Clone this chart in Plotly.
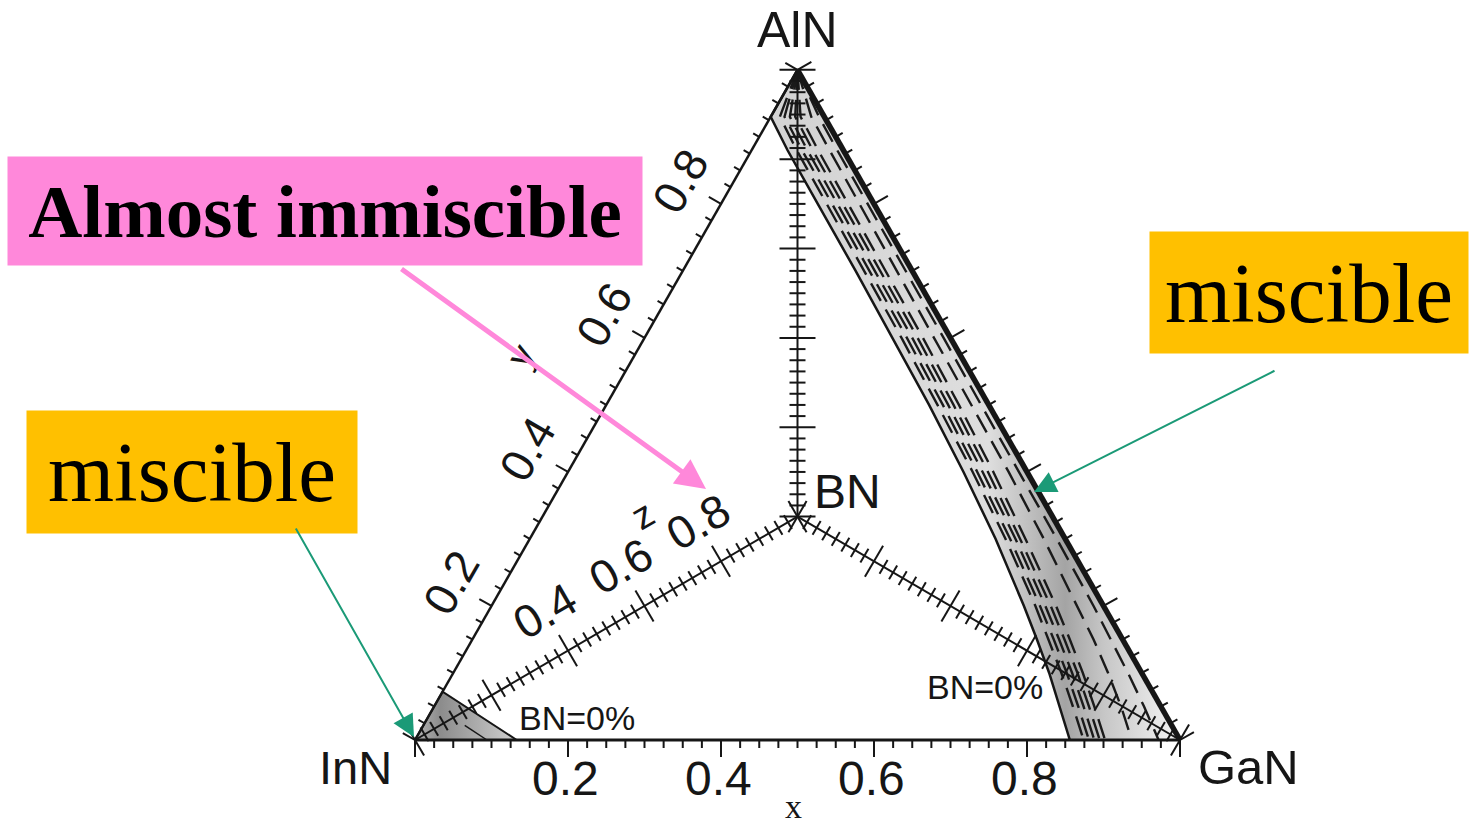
import numpy as np
import plotly.graph_objects as go

# ---------------------------------------------------------------------------
# Quaternary B_z(Al_y Ga_x In_{1-x-y})_{1-z}N composition diagram
# x = GaN fraction (bottom edge), y = AlN fraction (left / right edges),
# z = BN fraction (axes running from each corner to the BN centre point)
# ---------------------------------------------------------------------------

TICK_STEP = 0.025
MAJOR_STEP = 0.2

X_TICK_VALUES = [0.2, 0.4, 0.6, 0.8]
X_TICK_LABELS = ["0.2", "0.4", "0.6", "0.8"]
Y_TICK_VALUES = [0.2, 0.4, 0.6, 0.8]
Y_TICK_LABELS = ["0.2", "0.4", "0.6", "0.8"]
Z_TICK_VALUES = [0.4, 0.6, 0.8]
Z_TICK_LABELS = ["0.4", "0.6", "0.8"]

# Miscible band along the GaN-AlN side (BN = 0 %): InN content of each curve
BAND_Y = [0.0, 0.05, 0.1, 0.15, 0.2, 0.3, 0.4, 0.5, 0.6, 0.7, 0.8, 0.88, 0.93, 1.0]
BAND_EDGE_INN = [0.144, 0.132, 0.121, 0.112, 0.104, 0.091, 0.083, 0.078, 0.0755,
                 0.074, 0.0735, 0.073, 0.070, 0.0]
BAND_DASHED_INN = [
    [0.126, 0.115, 0.105, 0.097, 0.089, 0.078, 0.071, 0.067, 0.064, 0.063, 0.062, 0.061, 0.058, 0.0],
    [0.119, 0.108, 0.098, 0.090, 0.083, 0.072, 0.065, 0.060, 0.057, 0.056, 0.055, 0.054, 0.052, 0.0],
    [0.112, 0.101, 0.091, 0.083, 0.076, 0.065, 0.058, 0.053, 0.050, 0.049, 0.048, 0.047, 0.045, 0.0],
    [0.105, 0.094, 0.084, 0.076, 0.069, 0.059, 0.051, 0.046, 0.043, 0.042, 0.041, 0.040, 0.038, 0.0],
    [0.098, 0.087, 0.077, 0.069, 0.062, 0.052, 0.044, 0.039, 0.036, 0.035, 0.034, 0.033, 0.031, 0.0],
    [0.063, 0.052, 0.044, 0.038, 0.034, 0.028, 0.024, 0.022, 0.021, 0.020, 0.019, 0.018, 0.017, 0.0],
    [0.028, 0.022, 0.018, 0.015, 0.013, 0.011, 0.010, 0.010, 0.009, 0.009, 0.008, 0.008, 0.007, 0.0],
]

# Miscible pocket at the InN corner (BN = 0 %): (x, y) corners
INN_POCKET_X = [0.0, 0.0, 0.133]
INN_POCKET_Y = [0.0, 0.072, 0.0]
INN_INNER_X = [0.054, 0.094]
INN_INNER_Y = [0.022, 0.0]

# ---------------------------------------------------------------------------
# geometry of the drawing plane
# ---------------------------------------------------------------------------
W, H = 1470, 830
PX = 1.0 / 765.0                      # one screen pixel in plane units
V_INN = np.array([0.0, 0.0])
V_GAN = np.array([1.0, 0.0])
V_ALN = np.array([0.5, 0.876])
V_BN = (V_INN + V_GAN + V_ALN) / 3.0

X_RANGE = [-415 * PX, (W - 415) * PX]
Y_RANGE = [-(H - 740) * PX, 740 * PX]


def comp_xy(x, y, z=0.0):
    x = np.asarray(x, float)
    y = np.asarray(y, float)
    inn = 1.0 - x - y
    px = (1 - z) * (inn * V_INN[0] + x * V_GAN[0] + y * V_ALN[0]) + z * V_BN[0]
    py = (1 - z) * (inn * V_INN[1] + x * V_GAN[1] + y * V_ALN[1]) + z * V_BN[1]
    return px, py


def unit(v):
    return v / np.hypot(*v)


def tick_segments(p0, p1, normal, minor_len, major_len, both=False):
    xs, ys = [], []
    d = p1 - p0
    for t in np.round(np.arange(0.0, 1.0 + 1e-9, TICK_STEP), 4):
        p = p0 + t * d
        is_major = abs(t / MAJOR_STEP - round(t / MAJOR_STEP)) < 1e-6
        L = (major_len if is_major else minor_len) * PX
        a = p - normal * L if both else p
        b = p + normal * L
        xs += [a[0], b[0], None]
        ys += [a[1], b[1], None]
    return xs, ys


fig = go.Figure()
INK = "#161616"

# --- shaded miscible regions ------------------------------------------------
bx, by = comp_xy(1.0 - np.array(BAND_Y) - np.array(BAND_EDGE_INN), BAND_Y)
band_x = list(bx) + [V_GAN[0], bx[0]]
band_y = list(by) + [V_GAN[1], by[0]]
fig.add_trace(go.Scatter(
    x=band_x, y=band_y, mode="lines", fill="toself", line=dict(width=0),
    fillgradient=dict(type="horizontal", start=0.5, stop=1.0,
                      colorscale=[[0, "#d4d4d4"], [0.5, "#dedede"], [0.7, "#a4a4a4"],
                                  [0.8, "#c6c6c6"], [1, "#f5f5f5"]]),
    hoverinfo="skip"))

px_, py_ = comp_xy(INN_POCKET_X, INN_POCKET_Y)
fig.add_trace(go.Scatter(
    x=list(px_) + [px_[0]], y=list(py_) + [py_[0]], mode="lines", fill="toself",
    line=dict(color=INK, width=2),
    fillgradient=dict(type="horizontal", start=0.0, stop=0.133,
                      colorscale=[[0, "#b5b5b5"], [0.25, "#8c8c8c"], [1, "#cfcfcf"]]),
    hoverinfo="skip"))
ix, iy = comp_xy(INN_INNER_X, INN_INNER_Y)
fig.add_trace(go.Scatter(x=ix, y=iy, mode="lines", line=dict(color=INK, width=1.5),
                         hoverinfo="skip"))

# --- curves inside the band ------------------------------------------------
for inn in BAND_DASHED_INN:
    cx, cy = comp_xy(1.0 - np.array(BAND_Y) - np.array(inn), BAND_Y)
    fig.add_trace(go.Scatter(x=cx[::-1], y=cy[::-1], mode="lines",
                             line=dict(color="#1a1a1a", width=2.4, dash="20px,10px"),
                             hoverinfo="skip"))
fig.add_trace(go.Scatter(x=bx, y=by, mode="lines", line=dict(color=INK, width=2.5),
                         hoverinfo="skip"))

# --- triangle edges ------------------------------------------------------------
def seg(p, q, width):
    fig.add_trace(go.Scatter(x=[p[0], q[0]], y=[p[1], q[1]], mode="lines",
                             line=dict(color=INK, width=width), hoverinfo="skip"))

seg(V_INN, V_GAN, 3)
seg(V_INN, V_ALN, 2.5)
seg(V_GAN, V_ALN, 5.5)
for v in (V_INN, V_GAN, V_ALN):
    seg(v, V_BN, 2)

# --- ticks -------------------------------------------------------------------
n_left = unit(np.array([-(V_ALN - V_INN)[1], (V_ALN - V_INN)[0]]))
n_right = unit(np.array([(V_ALN - V_GAN)[1], -(V_ALN - V_GAN)[0]]))
tick_sets = [
    tick_segments(V_INN, V_GAN, np.array([0.0, -1.0]), 8, 17),
    tick_segments(V_INN, V_ALN, n_left, 7, 14),
    tick_segments(V_GAN, V_ALN, n_right, 8, 16),
]
for v in (V_INN, V_GAN, V_ALN):
    d = unit(V_BN - v)
    tick_sets.append(tick_segments(v, V_BN, np.array([-d[1], d[0]]), 8, 18, both=True))
for xs, ys in tick_sets:
    fig.add_trace(go.Scatter(x=xs, y=ys, mode="lines", line=dict(color=INK, width=2),
                             hoverinfo="skip"))

# --- text ----------------------------------------------------------------------
SANS = "Liberation Sans, Arial, Helvetica, sans-serif"
SERIF = "Liberation Serif, Times New Roman, serif"
ann = []


def label(p, text, size=44, angle=0, xanchor="center", font=SANS):
    ann.append(dict(x=p[0], y=p[1], xref="x", yref="y", text=text, showarrow=False,
                    textangle=angle, xanchor=xanchor, yanchor="middle",
                    font=dict(family=font, size=size, color=INK)))


label(V_ALN + np.array([0, 40]) * PX, "AlN", 50)
label(V_INN + np.array([-60, -27]) * PX, "InN", 47)
label(V_GAN + np.array([68, -27]) * PX, "GaN", 49)
label(V_BN + np.array([14, 25]) * PX, "BN", 48, xanchor="left")

for v, t in zip(X_TICK_VALUES, X_TICK_LABELS):
    label(V_INN + v * (V_GAN - V_INN) + np.array([-3, -38]) * PX, t, 48)
label(V_INN + 0.5 * (V_GAN - V_INN) + np.array([-4, -66]) * PX, "x", 34, font=SERIF)

for v, t in zip(Y_TICK_VALUES, Y_TICK_LABELS):
    label(V_INN + v * (V_ALN - V_INN) + n_left * 47 * PX, t, 46, angle=-60)
label(V_INN + 0.5 * (V_ALN - V_INN) + n_left * 98 * PX, "y", 38, angle=-60)

d_z = unit(V_BN - V_INN)
n_z = np.array([-d_z[1], d_z[0]])
for v, t in zip(Z_TICK_VALUES, Z_TICK_LABELS):
    label(V_INN + v * (V_BN - V_INN) + n_z * 46 * PX, t, 46, angle=-30)
label(V_INN + 0.7 * (V_BN - V_INN) + n_z * 80 * PX, "z", 38, angle=-30)

label(comp_xy(0.195, 0.033), "BN=0%", 34)
label(comp_xy(0.705, 0.079), "BN=0%", 34)


# --- callout boxes and arrows --------------------------------------------------
def box(cx, cy, w, h, text, color, size, bold=False):
    ann.append(dict(x=cx / W, y=1 - cy / H, xref="paper", yref="paper",
                    text=f"<b>{text}</b>" if bold else text, showarrow=False,
                    width=w, height=h, bgcolor=color, borderpad=0,
                    xanchor="center", yanchor="middle", align="center", valign="middle",
                    font=dict(family=SERIF, size=size, color="black")))


def arrow(tail, tip, color, width, size):
    ann.append(dict(x=tip[0] / W, y=1 - tip[1] / H, xref="paper", yref="paper",
                    ax=tail[0] - tip[0], ay=tail[1] - tip[1], text="", showarrow=True,
                    arrowhead=2, arrowsize=size, arrowwidth=width, arrowcolor=color,
                    standoff=0))


PINK = "#FF88DA"
AMBER = "#FFC000"
GREEN = "#1B9A77"
box(325, 211, 634, 108, "Almost immiscible", PINK, 75, bold=True)
box(1309, 292, 318, 121, "miscible", AMBER, 85)
box(192, 472, 330, 122, "miscible", AMBER, 85)
arrow((400, 268), (706, 489), PINK, 5, 1.2)
arrow((1276, 370), (1034, 492), GREEN, 2, 2.2)
arrow((295, 527), (414, 737), GREEN, 2, 2.2)

fig.update_layout(
    width=W, height=H, margin=dict(l=0, r=0, t=0, b=0),
    paper_bgcolor="white", plot_bgcolor="white", showlegend=False,
    xaxis=dict(range=X_RANGE, visible=False, fixedrange=True),
    yaxis=dict(range=Y_RANGE, visible=False, fixedrange=True),
    annotations=ann,
)

fig.write_html("out.html")
